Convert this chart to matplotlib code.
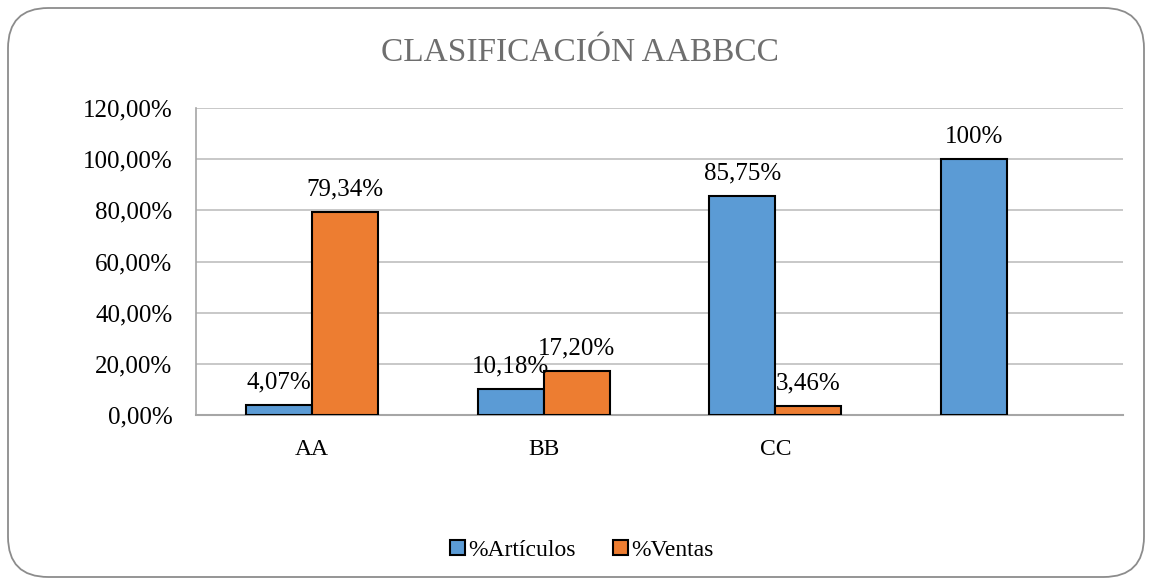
import numpy as np
import matplotlib.pyplot as plt
from matplotlib.patches import FancyBboxPatch

# datos
categorias = ["AA", "BB", "CC", ""]
articulos = [4.07, 10.18, 85.75, 100.0]
ventas = [79.34, 17.20, 3.46, np.nan]
etiq_art = ["4,07%", "10,18%", "85,75%", "100%"]
etiq_ven = ["79,34%", "17,20%", "3,46%", ""]
yticks = [0, 20, 40, 60, 80, 100, 120]

plt.rcParams['font.family'] = ['Liberation Serif', 'DejaVu Serif']

fig = plt.figure(figsize=(11.52, 5.85), dpi=100)
# marco redondeado
marco = FancyBboxPatch((8/1152, 8/585), 1136/1152, 569/585,
                       boxstyle="round,pad=0,rounding_size=0.035",
                       transform=fig.transFigure, fc="none", ec="#8c8c8c", lw=1.3,
                       mutation_aspect=1152/585, zorder=-1)
fig.patches.append(marco)

ax = fig.add_axes([196/1152, 1 - 415/585, 927/1152, 307/585])
ax.set_facecolor("none")
x = np.arange(len(categorias))
w = 0.285
b1 = ax.bar(x - w/2, articulos, w, color="#5B9BD5", edgecolor="black", lw=1.5, label="%Artículos", zorder=3)
b2 = ax.bar(x + w/2, np.nan_to_num(ventas), w, color="#ED7D31", edgecolor="black", lw=1.5, label="%Ventas", zorder=3)
b2[3].set_visible(False)

for rect, t in zip(b1, etiq_art):
    ax.text(rect.get_x() + rect.get_width()/2, rect.get_height() + 4.5, t,
            ha="center", va="bottom", fontsize=18)
for rect, t in zip(b2, etiq_ven):
    if t:
        ax.text(rect.get_x() + rect.get_width()/2, rect.get_height() + 4.5, t,
                ha="center", va="bottom", fontsize=18)

ax.set_xlim(-0.5, 3.5)
ax.set_ylim(0, 120)
ax.set_yticks(yticks)
ax.set_yticklabels([f"{v},00%" for v in yticks], fontsize=18)
ax.set_xticks(x)
ax.set_xticklabels(categorias, fontsize=17)
ax.tick_params(length=0)
ax.tick_params(axis="y", pad=17)
ax.tick_params(axis="x", pad=17)
ax.yaxis.grid(True, color="#bfbfbf", lw=1.2, zorder=0)
for s in ["top", "right"]:
    ax.spines[s].set_visible(False)
ax.spines["left"].set_color("#a6a6a6")
ax.spines["bottom"].set_color("#a6a6a6")
ax.spines["left"].set_linewidth(1.2)
ax.spines["bottom"].set_linewidth(1.5)

fig.text(580/1152, 1 - 53/585, "CLASIFICACIÓN AABBCC", ha="center", va="center",
         fontsize=24, color="#6e6e6e")

fig.legend(handles=[b1, b2], loc="center", bbox_to_anchor=(582/1152, 1 - 550/585),
           ncol=2, frameon=False, fontsize=17, handlelength=0.6, handleheight=0.6,
           handletextpad=0.15, columnspacing=1.6)

fig.savefig("out.png", dpi=100)
